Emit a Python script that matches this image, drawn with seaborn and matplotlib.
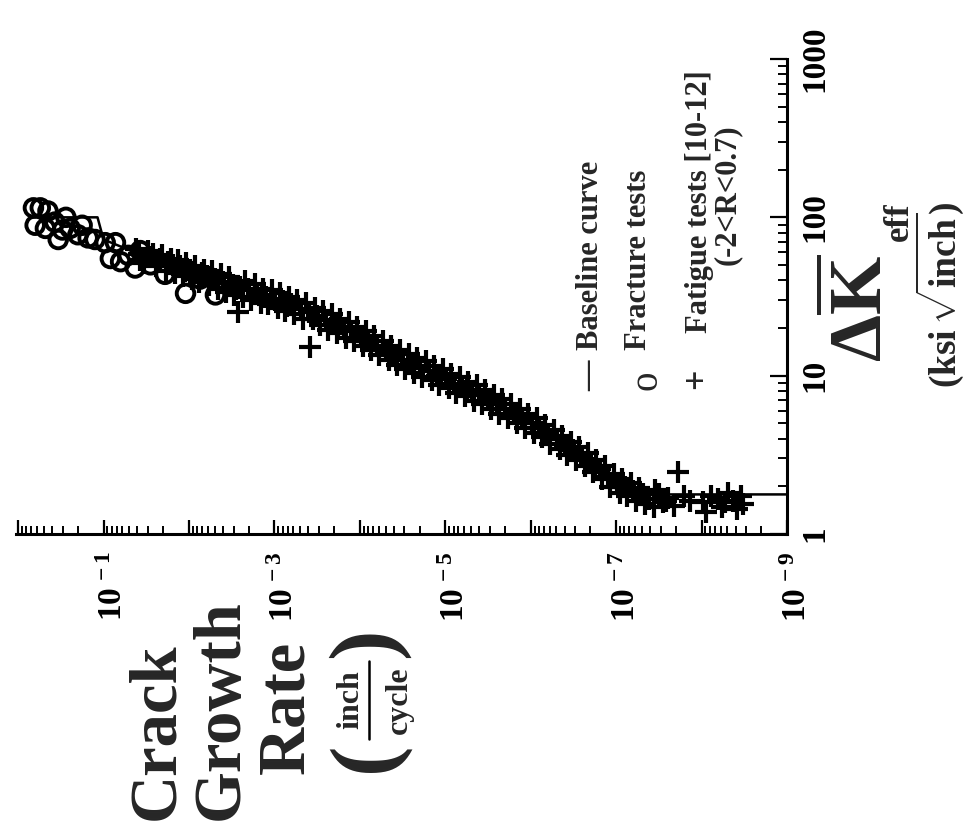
import numpy as np
import pandas as pd
import matplotlib
matplotlib.use("Agg")
import matplotlib.pyplot as plt
import matplotlib.ticker as mticker
import matplotlib.transforms as mtransforms
from matplotlib.lines import Line2D
import seaborn as sns

# values (log10 of da/dN in inch/cycle, log10 of dK_eff in ksi*sqrt(inch))
base_log_rate = [-9.0, -7.6, -7.25, -7.0, -6.6, -6.0, -5.5, -5.0, -4.5, -4.0,
                 -3.5, -3.0, -2.5, -2.0, -1.5, -1.0, -0.93, -0.15]
base_log_dk = [0.25, 0.25, 0.27, 0.32, 0.49, 0.70, 0.85, 0.98, 1.10, 1.25,
               1.38, 1.49, 1.57, 1.66, 1.75, 1.86, 2.00, 2.00]

frac_log_rate = [-0.18, -0.26, -0.35, -0.20, -0.32, -0.43, -0.52, -0.61, -0.70, -0.82,
                 -0.90, -1.02, -1.14, -1.08, -1.20, -1.29, -1.43, -1.37, -1.55, -1.72,
                 -1.96, -2.31, -2.13, -0.47, -0.56, -0.75]
frac_log_dk = [2.06, 2.06, 2.04, 1.95, 1.93, 1.97, 1.92, 1.93, 1.89, 1.87,
               1.86, 1.84, 1.84, 1.74, 1.72, 1.76, 1.79, 1.68, 1.70, 1.64,
               1.52, 1.51, 1.61, 1.86, 2.00, 1.95]

fat_log_rate = [
    -1.38, -1.43, -1.41, -1.52, -1.47, -1.56, -1.62, -1.58, -1.66, -1.69,
    -1.73, -1.75, -1.79, -1.84, -1.81, -1.87, -1.93, -1.90, -1.97, -2.04,
    -2.01, -2.07, -2.12, -2.15, -2.18, -2.23, -2.21, -2.27, -2.34, -2.31,
    -2.37, -2.43, -2.40, -2.47, -2.53, -2.51, -2.57, -2.63, -2.60, -2.66,
    -2.69, -2.73, -2.77, -2.84, -2.80, -2.87, -2.93, -2.90, -2.97, -3.04,
    -3.01, -3.07, -3.13, -3.10, -3.17, -3.23, -3.20, -3.27, -3.34, -3.31,
    -3.37, -3.42, -3.40, -3.47, -3.53, -3.50, -3.57, -3.63, -3.60, -3.67,
    -3.73, -3.70, -3.77, -3.84, -3.81, -3.87, -3.93, -3.90, -3.97, -4.04,
    -4.01, -4.07, -4.13, -4.10, -4.17, -4.23, -4.20, -4.27, -4.34, -4.31,
    -4.37, -4.43, -4.40, -4.47, -4.53, -4.50, -4.57, -4.63, -4.60, -4.67,
    -4.73, -4.70, -4.77, -4.84, -4.81, -4.87, -4.93, -4.90, -4.97, -5.04,
    -5.01, -5.07, -5.13, -5.10, -5.17, -5.23, -5.20, -5.27, -5.34, -5.31,
    -5.37, -5.43, -5.40, -5.47, -5.53, -5.50, -5.57, -5.63, -5.60, -5.67,
    -5.73, -5.70, -5.77, -5.84, -5.81, -5.87, -5.93, -5.90, -5.97, -6.04,
    -6.01, -6.07, -6.13, -6.10, -6.17, -6.23, -6.20, -6.27, -6.34, -6.31,
    -6.37, -6.43, -6.40, -6.47, -6.53, -6.50, -6.57, -6.63, -6.60, -6.67,
    -6.73, -6.70, -6.77, -6.84, -6.81, -6.87, -6.93, -6.90, -6.97, -7.04,
    -7.01, -7.07, -7.13, -7.10, -7.17, -7.23, -7.20, -7.27, -7.34, -7.31,
    -7.38, -7.44, -7.50, -7.55, -7.61, -7.68, -7.73, -7.79, -7.86, -8.02,
    -8.05, -8.11, -8.19, -8.24, -8.31, -8.37, -8.42, -8.46, -8.49, -7.46,
    -1.95, -2.26, -2.55, -2.86, -3.15, -3.45, -3.74, -4.05, -4.35, -4.64,
    -4.95, -5.25, -5.55, -5.85, -6.15, -6.45, -6.75, -7.05, -7.58, -8.28,
]
fat_log_dk = [
    1.80, 1.73, 1.77, 1.79, 1.71, 1.75, 1.69, 1.77, 1.74, 1.76,
    1.66, 1.72, 1.74, 1.65, 1.70, 1.73, 1.63, 1.69, 1.71, 1.61,
    1.67, 1.69, 1.59, 1.65, 1.67, 1.57, 1.63, 1.66, 1.55, 1.61,
    1.64, 1.53, 1.59, 1.62, 1.51, 1.57, 1.40, 1.50, 1.56, 1.60,
    1.55, 1.48, 1.58, 1.46, 1.52, 1.55, 1.45, 1.50, 1.54, 1.43,
    1.48, 1.52, 1.41, 1.47, 1.50, 1.39, 1.45, 1.48, 1.36, 1.42,
    1.46, 1.18, 1.40, 1.43, 1.32, 1.38, 1.41, 1.29, 1.35, 1.39,
    1.27, 1.33, 1.36, 1.24, 1.30, 1.34, 1.22, 1.28, 1.31, 1.19,
    1.25, 1.28, 1.16, 1.22, 1.25, 1.13, 1.19, 1.22, 1.10, 1.16,
    1.19, 1.07, 1.13, 1.16, 1.04, 1.10, 1.14, 1.02, 1.08, 1.11,
    0.99, 1.05, 1.09, 0.97, 1.03, 1.06, 0.94, 1.00, 1.04, 0.92,
    0.98, 1.01, 0.89, 0.95, 0.99, 0.87, 0.93, 0.96, 0.84, 0.90,
    0.94, 0.82, 0.88, 0.91, 0.79, 0.85, 0.88, 0.76, 0.82, 0.85,
    0.73, 0.79, 0.82, 0.70, 0.76, 0.79, 0.67, 0.73, 0.76, 0.64,
    0.70, 0.73, 0.61, 0.67, 0.69, 0.57, 0.63, 0.66, 0.54, 0.60,
    0.62, 0.50, 0.56, 0.58, 0.47, 0.53, 0.55, 0.43, 0.49, 0.51,
    0.39, 0.45, 0.47, 0.35, 0.41, 0.43, 0.30, 0.36, 0.38, 0.26,
    0.32, 0.35, 0.24, 0.30, 0.32, 0.21, 0.27, 0.29, 0.19, 0.25,
    0.22, 0.17, 0.25, 0.20, 0.23, 0.18, 0.39, 0.24, 0.21, 0.20,
    0.14, 0.24, 0.22, 0.17, 0.26, 0.21, 0.16, 0.24, 0.19, 0.28,
    1.66, 1.62, 1.55, 1.50, 1.44, 1.36, 1.31, 1.23, 1.14, 1.06,
    1.00, 0.91, 0.84, 0.76, 0.64, 0.55, 0.42, 0.30, 0.21, 0.20,
]

rate_label_exps = [-1, -3, -5, -7, -9]
legend_labels = ["Baseline curve", "Fracture tests", "Fatigue tests [10-12]", "(-2<R<0.7)"]

base = pd.DataFrame({"rate": 10 ** np.array(base_log_rate), "dk": 10 ** np.array(base_log_dk)})
frac = pd.DataFrame({"rate": 10 ** np.array(frac_log_rate), "dk": 10 ** np.array(frac_log_dk)})
fat = pd.DataFrame({"rate": 10 ** np.array(fat_log_rate), "dk": 10 ** np.array(fat_log_dk)})

sns.set_theme(style="white")
plt.rcParams["font.family"] = ["Liberation Serif", "DejaVu Serif"]
plt.rcParams["font.weight"] = "bold"
plt.rcParams["mathtext.fontset"] = "custom"
plt.rcParams["mathtext.rm"] = "Liberation Serif:bold"
plt.rcParams["mathtext.it"] = "Liberation Serif:bold"
plt.rcParams["mathtext.bf"] = "Liberation Serif:bold"

W, H = 969, 825
fig = plt.figure(figsize=(W / 100, H / 100), dpi=100)
ax = fig.add_axes([15.5 / W, 1 - 534 / H, (787 - 15.5) / W, (534 - 59) / H])


def px(x, y):
    return x / W, 1 - y / H


# the whole figure is drawn turned a quarter turn: rate runs along x, dK up y
sns.lineplot(data=base, x="rate", y="dk", sort=False, estimator=None,
             color="black", lw=1.8, ax=ax)
sns.scatterplot(data=frac, x="rate", y="dk", marker="o", s=160,
                facecolor="none", edgecolor="black", linewidth=2.8, ax=ax)
sns.scatterplot(data=fat, x="rate", y="dk", marker="+", s=230,
                color="black", linewidth=3.0, ax=ax)

ax.set_xscale("log")
ax.set_yscale("log")
ax.set_xlim(10 ** 0.03, 1e-9)
ax.set_ylim(1, 1000)
ax.set_xlabel("")
ax.set_ylabel("")

for side in ["top", "left"]:
    ax.spines[side].set_visible(False)
for side in ["bottom", "right"]:
    ax.spines[side].set_linewidth(2.2)
    ax.spines[side].set_color("black")


def rate_fmt(v, pos):
    e = int(round(np.log10(v)))
    return r"$10^{\,%d}$" % e if e in rate_label_exps else ""


ax.xaxis.set_major_locator(mticker.LogLocator(base=10, numticks=100))
ax.xaxis.set_minor_locator(mticker.LogLocator(base=10, subs=np.arange(2, 10), numticks=100))
ax.xaxis.set_major_formatter(mticker.FuncFormatter(rate_fmt))
ax.xaxis.set_minor_formatter(mticker.NullFormatter())
ax.yaxis.set_major_locator(mticker.LogLocator(base=10, numticks=100))
ax.yaxis.set_minor_locator(mticker.LogLocator(base=10, subs=np.arange(2, 10), numticks=100))
ax.yaxis.set_major_formatter(mticker.FuncFormatter(lambda v, pos: "%d" % round(v)))
ax.yaxis.set_minor_formatter(mticker.NullFormatter())
ax.yaxis.tick_right()

ax.tick_params(axis="x", which="major", direction="in", length=10, width=1.6,
               pad=12, labelsize=24, labelrotation=90, bottom=True, top=False, colors="black")
ax.tick_params(axis="x", which="minor", direction="in", length=5.5, width=1.4,
               bottom=True, top=False, colors="black")
ax.tick_params(axis="y", which="major", direction="in", length=12, width=1.6,
               pad=9, labelsize=24, labelrotation=90, right=True, left=False, colors="black")
ax.tick_params(axis="y", which="minor", direction="in", length=6.5, width=1.4,
               right=True, left=False, colors="black")

shift = mtransforms.ScaledTranslation(10 / 100, 0, fig.dpi_scale_trans)
for t in ax.xaxis.get_major_ticks():
    t.label1.set_transform(t.label1.get_transform() + shift)
for t in ax.yaxis.get_major_ticks():
    t.label2.set_va("center")

# rate axis title
fig.text(*px(157, 820), "Crack", rotation=90, ha="center", va="bottom", fontsize=48)
fig.text(*px(221, 820), "Growth", rotation=90, ha="center", va="bottom", fontsize=48)
fig.text(*px(287, 707), "Rate", rotation=90, ha="center", va="center", fontsize=48)
fig.text(*px(351, 700), "inch", rotation=90, ha="center", va="center", fontsize=23)
fig.text(*px(399, 700), "cycle", rotation=90, ha="center", va="center", fontsize=23)
fig.add_artist(Line2D([369 / W, 369 / W], [1 - 661 / H, 1 - 739 / H], color="black", lw=1.8))
fig.text(*px(368, 757), "(", rotation=90, ha="center", va="center", fontsize=66)
fig.text(*px(368, 643), ")", rotation=90, ha="center", va="center", fontsize=66)

# dK axis title
fig.text(*px(862, 308), r"$\Delta\overline{\mathrm{K}}$", rotation=90,
         ha="center", va="center", fontsize=54)
fig.text(*px(899, 222), "eff", rotation=90, ha="center", va="center", fontsize=25)
fig.text(*px(940, 295), r"$(\mathrm{ksi}\,\sqrt{\mathrm{inch}})$", rotation=90,
         ha="center", va="center", fontsize=27)

# key, written as rotated text like the original
fig.text(*px(590, 376), "\u2014", rotation=90, ha="center", va="center", fontsize=22)
fig.text(*px(647, 380), "o", rotation=90, ha="center", va="center", fontsize=28,
         fontweight="normal")
fig.text(*px(698, 379), "+", rotation=90, ha="center", va="center", fontsize=26)
fig.text(*px(590, 350), legend_labels[0], rotation=90, ha="center", va="bottom", fontsize=22)
fig.text(*px(639, 350), legend_labels[1], rotation=90, ha="center", va="bottom", fontsize=22)
fig.text(*px(700, 333), legend_labels[2], rotation=90, ha="center", va="bottom", fontsize=22)
fig.text(*px(727, 265), legend_labels[3], rotation=90, ha="center", va="bottom", fontsize=22)

fig.savefig("out.png", dpi=100, facecolor="white")
